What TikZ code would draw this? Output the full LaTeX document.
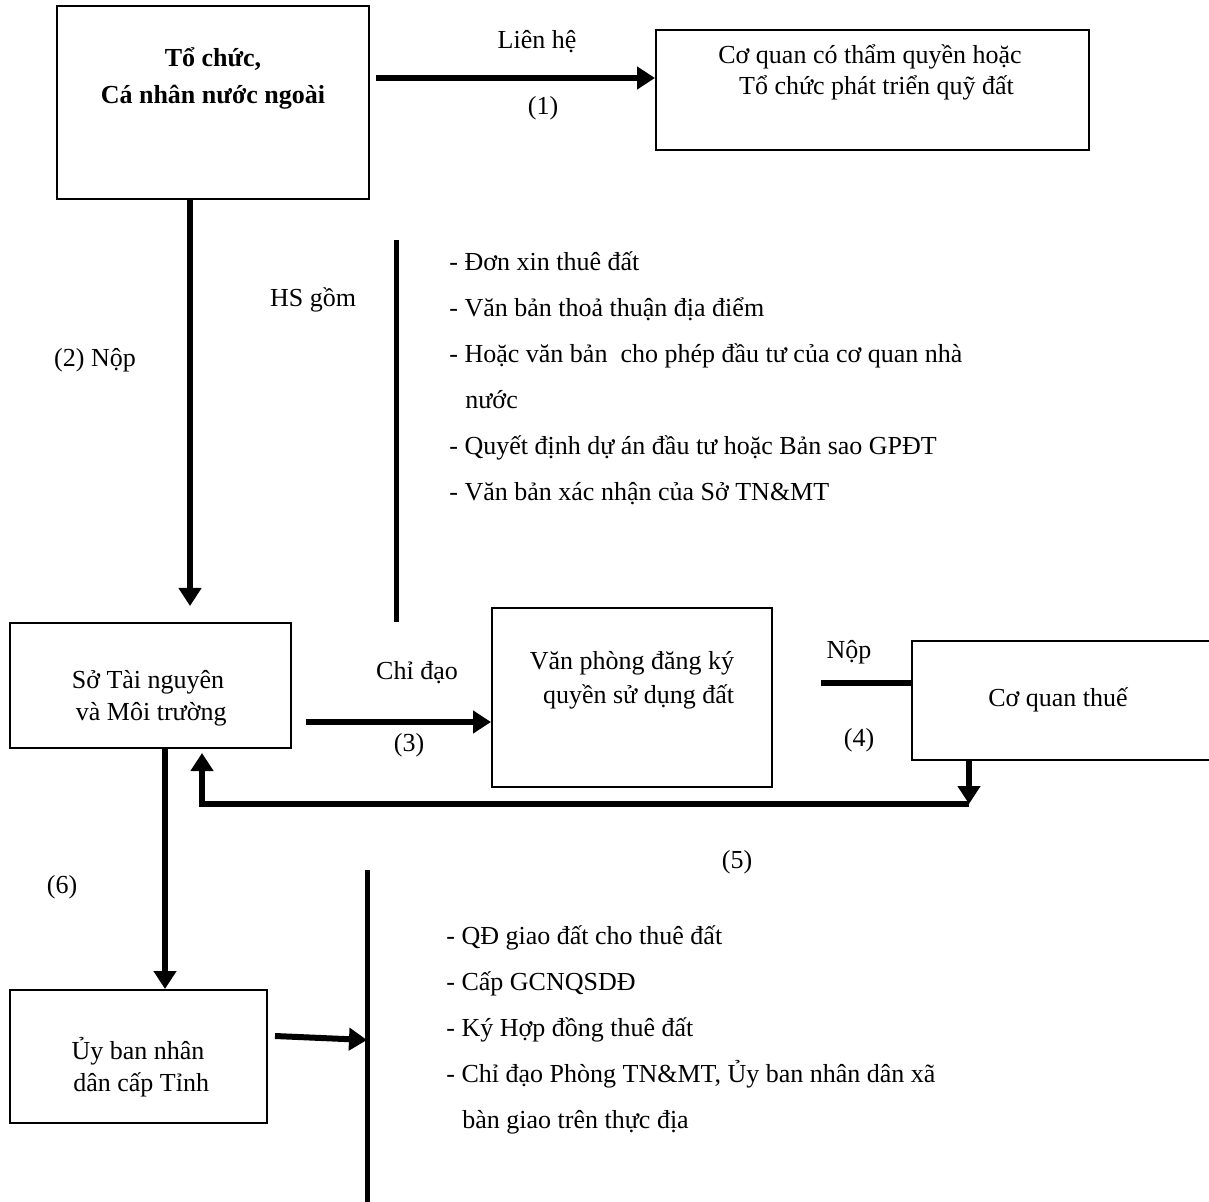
\documentclass[tikz,border=0pt]{standalone}
\usepackage{fontspec}
\setmainfont{Liberation Serif}
\usetikzlibrary{arrows.meta,calc}

\tikzset{
  box/.style={draw,line width=1pt,inner sep=0pt},
  flow/.style={->,line width=3pt},
  bar/.style={line width=2.5pt},
  txt/.style={align=center,inner sep=1pt},
  item/.style={anchor=base west,inner sep=0pt},
}

\begin{document}
\begin{tikzpicture}[x=0.5pt,y=-0.5pt,>={Triangle[length=9pt,width=11pt]},
  every node/.style={font=\fontsize{13}{16}\selectfont}]
  \useasboundingbox (0,0) rectangle (1209,1202);

  % the six boxes (sizes in pt, positions in px of the page)
  \node[box,minimum width=156pt,minimum height=96.5pt] (org) at (213,102.5) {};
  \node[box,minimum width=216.5pt,minimum height=60pt] (agency) at (872.5,90) {};
  \node[box,minimum width=140.5pt,minimum height=62.5pt] (dept) at (150.5,685.5) {};
  \node[box,minimum width=140pt,minimum height=89.5pt] (office) at (632,697.5) {};
  \node[box,minimum width=150pt,minimum height=59.5pt] (tax) at (1062,700.5) {};
  \node[box,minimum width=128.5pt,minimum height=66.5pt] (ppc) at (138.5,1056.5) {};

  \node[txt,font=\fontsize{13}{18.5}\selectfont\bfseries] (org-t) at (213,78) {Tổ chức,\\Cá nhân nước ngoài};
  \node[txt,font=\fontsize{13}{15.5}\selectfont] (agency-t) at (870,72) {Cơ quan có thẩm quyền hoặc\\\ \ Tổ chức phát triển quỹ đất};
  \node[txt] (dept-t) at (148,698) {Sở Tài nguyên\\\ và Môi trường};
  \node[txt,font=\fontsize{13}{17}\selectfont] (office-t) at (632,680) {Văn phòng đăng ký\\\ \ quyền sử dụng đất};
  \node[txt] (tax-t) at (1058,700) {Cơ quan thuế};
  \node[txt] (ppc-t) at (138,1067) {Ủy ban nhân\\\ dân cấp Tỉnh};

  % connectors
  \coordinate (a1) at (376,78);
  \draw[flow] (a1) -- (a1 -| agency.west);
  \draw[flow,shorten >=8pt] ([xshift=-11.5pt]org.south) -- ([xshift=-11.5pt]org.south |- dept.north);
  \coordinate (a3) at (306,722);
  \draw[flow] (a3) -- (a3 -| office.west);
  \coordinate (a4) at (821,683);
  \draw[line width=3pt] (a4) -- (a4 -| tax.west);
  \coordinate (c5) at (969,804);
  \coordinate (c5b) at (202,804);
  \draw[flow] (tax.south -| c5) -- (c5);
  \draw[flow,shorten >=2pt] (c5) -- (c5b) -- (c5b |- dept.south);
  \draw[flow] ([xshift=7.25pt]dept.south) -- ([xshift=7.25pt]dept.south |- ppc.north);

  % the two bars with the document lists
  \coordinate (b1top) at (396,240);
  \coordinate (b1bot) at (396,622);
  \draw[bar] (b1top) -- (b1bot);
  \coordinate (b2top) at (367,870);
  \coordinate (b2bot) at (367,1202);
  \draw[bar] (b2top) -- (b2bot);
  \coordinate (a7) at (367,1040);
  \draw[flow] ([shift={(3.5pt,10.25pt)}]ppc.east) -- (a7);

  \foreach \t [count=\i] in {- Đơn xin thuê đất, - Văn bản thoả thuận địa điểm,
      - Hoặc văn bản\ \ cho phép đầu tư của cơ quan nhà, \hspace*{8pt}nước,
      - Quyết định dự án đầu tư hoặc Bản sao GPĐT, - Văn bản xác nhận của Sở TN\&MT}
    \node[item] (hs-\i) at (449,{271+46*(\i-1)}) {\t};
  \foreach \t [count=\i] in {- QĐ giao đất cho thuê đất, - Cấp GCNQSDĐ, - Ký Hợp đồng thuê đất,
      {- Chỉ đạo Phòng TN\&MT, Ủy ban nhân dân xã}, \hspace*{8pt}bàn giao trên thực địa}
    \node[item] (qd-\i) at (446,{944+46*(\i-1)}) {\t};

  % labels
  \node (lab1) at (537,42) {Liên hệ};
  \node (num1) at (543,108) {(1)};
  \node (lab2) at (95,360) {(2) Nộp};
  \node (hs) at (313,300) {HS gồm};
  \node (lab3) at (417,673) {Chỉ đạo};
  \node (num3) at (409,745) {(3)};
  \node (lab4) at (849,652) {Nộp};
  \node (num4) at (859,740) {(4)};
  \node (num5) at (737,862) {(5)};
  \node (num6) at (62,887) {(6)};
\end{tikzpicture}
\end{document}
